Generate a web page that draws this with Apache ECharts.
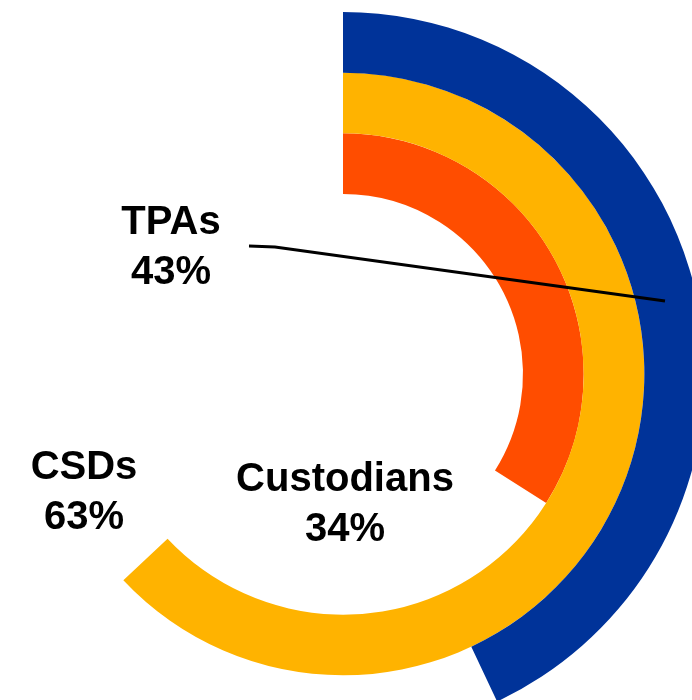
<!DOCTYPE html>
<html>
<head>
<meta charset="utf-8">
<script src="https://cdn.jsdelivr.net/npm/echarts@6/dist/echarts.min.js"></script>
<style>
  html, body { margin: 0; padding: 0; background: #fff; }
  #chart { width: 692px; height: 700px; }
</style>
</head>
<body>
<div id="chart"></div>
<script>
// Udziały (kolejność od środka na zewnątrz)
const categories = ["Custodians", "CSDs", "TPAs"];
const shares = [34, 63, 43];

const ringColors = ["#FF4D00", "#FFB300", "#003399"];
// Pozycje etykiet (środek tekstu)
const labelPos = [[345, 505], [84, 493], [171, 248]];

const chart = echarts.init(document.getElementById("chart"));

const labelFont = 'bold 40px "Liberation Sans", Arial, sans-serif';

const option = {
    animation: false,
    polar: { center: [343, 374], radius: [180, 362] },
    angleAxis: { type: "value", min: 0, max: 100, startAngle: 90, clockwise: true, show: false },
    radiusAxis: { type: "category", data: categories, show: false },
    series: [{
        type: "bar",
        coordinateSystem: "polar",
        barCategoryGap: "0%",
        data: shares.map((v, i) => ({ value: v, itemStyle: { color: ringColors[i] } }))
    }],
    graphic: [
        ...categories.map((name, i) => ({
            type: "text",
            x: labelPos[i][0],
            y: labelPos[i][1],
            z: 100,
            style: {
                text: name + "\n" + shares[i] + "%",
                font: labelFont,
                fill: "#000",
                align: "center",
                verticalAlign: "middle",
                lineHeight: 50
            }
        })),
        {
            // linia odniesienia do pierścienia TPAs
            type: "polyline",
            z: 100,
            shape: { points: [[249, 246], [275, 247], [665, 301]] },
            style: { stroke: "#000", lineWidth: 3, fill: null }
        }
    ]
};

chart.setOption(option);
</script>
</body>
</html>
